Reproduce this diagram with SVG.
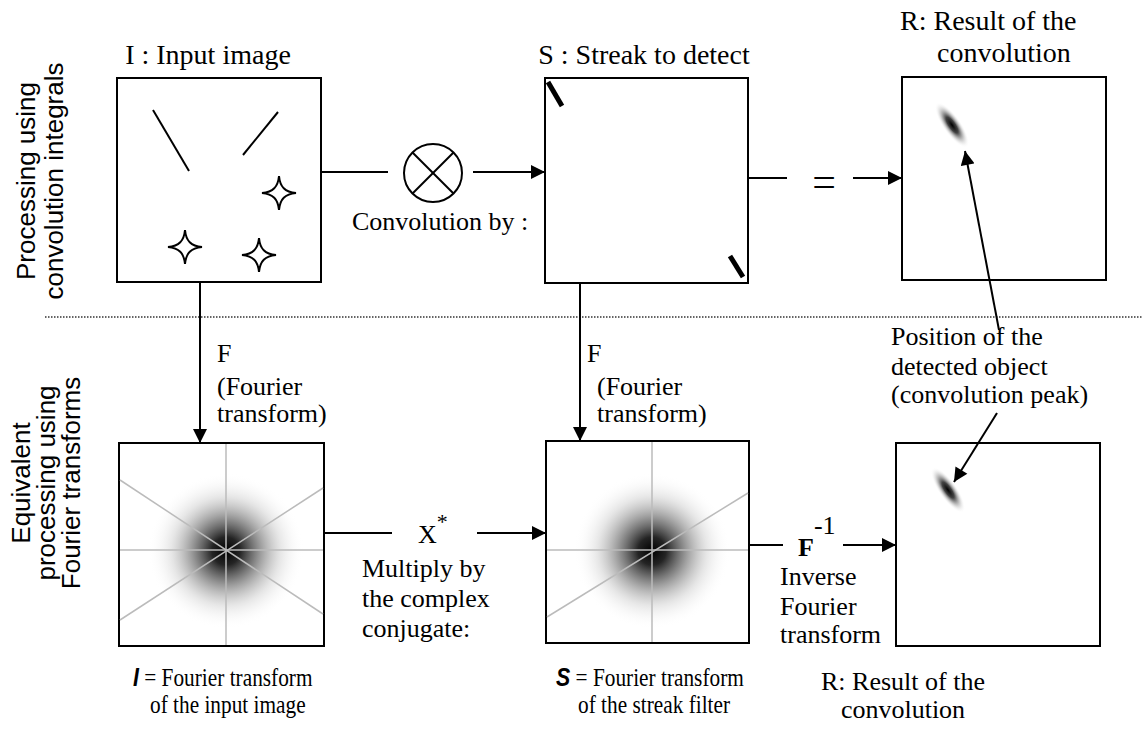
<svg xmlns="http://www.w3.org/2000/svg" xmlns:xlink="http://www.w3.org/1999/xlink" width="1143" height="729" viewBox="0 0 1143 729">
<style>
.box{fill:#fff;stroke:#000;stroke-width:2}
.ln{stroke:#000;stroke-width:2;fill:none}
.arr{stroke:#000;stroke-width:2;fill:none;marker-end:url(#ah)}
.t{font-family:"Liberation Serif","Times New Roman",serif;font-size:26px;fill:#000}
.tt{font-family:"Liberation Serif","Times New Roman",serif;font-size:28px;fill:#000}
.s{font-family:"Liberation Sans",Arial,sans-serif;font-size:26px;fill:#000}
.bi{font-family:"Liberation Sans",Arial,sans-serif;font-weight:bold;font-style:italic}
.grid{stroke:#bbb;stroke-width:1.5;fill:none}
.star{fill:#fff;stroke:#000;stroke-width:2}
.streak{stroke:#000;stroke-width:5;stroke-linecap:butt}
</style>
<defs>
<marker id="ah" viewBox="0 0 10 10" refX="10" refY="5" markerWidth="15" markerHeight="14" markerUnits="userSpaceOnUse" orient="auto"><path d="M0,0 L10,5 L0,10 z" fill="#000"/></marker>
<radialGradient id="gauss" cx="50%" cy="50%" r="50%">
<stop offset="0" stop-color="#000" stop-opacity="1"/>
<stop offset="0.18" stop-color="#111" stop-opacity="0.92"/>
<stop offset="0.4" stop-color="#444" stop-opacity="0.62"/>
<stop offset="0.7" stop-color="#999" stop-opacity="0.24"/>
<stop offset="1" stop-color="#fff" stop-opacity="0"/>
</radialGradient>
<radialGradient id="blob" cx="50%" cy="50%" r="50%">
<stop offset="0" stop-color="#000" stop-opacity="1"/>
<stop offset="0.35" stop-color="#222" stop-opacity="0.85"/>
<stop offset="0.7" stop-color="#888" stop-opacity="0.35"/>
<stop offset="1" stop-color="#fff" stop-opacity="0"/>
</radialGradient>
<path id="star" d="M0,-17 C1,-6 6,-1 17,0 C6,1 1,6 0,17 C-1,6 -6,1 -17,0 C-6,-1 -1,-6 0,-17 Z"/>
</defs>
<rect width="1143" height="729" fill="#fff"/>

<g id="row-labels">
<text class="s" text-anchor="middle" transform="translate(35,181) rotate(-90)">Processing using</text>
<text class="s" text-anchor="middle" transform="translate(63,181) rotate(-90)">convolution integrals</text>
<text class="s" text-anchor="middle" transform="translate(30,483) rotate(-90)">Equivalent</text>
<text class="s" text-anchor="middle" transform="translate(55,483) rotate(-90)">processing using</text>
<text class="s" text-anchor="middle" transform="translate(80,483) rotate(-90)">Fourier transforms</text>
<line x1="45" y1="317" x2="1143" y2="317" stroke="#333" stroke-width="1.3" stroke-dasharray="1.5,1.5"/>
</g>

<g id="input-image">
<text class="tt" x="208" y="64" text-anchor="middle">I : Input image</text>
<rect class="box" x="117" y="78" width="204" height="204"/>
<line class="ln" x1="153" y1="110" x2="189" y2="171"/>
<line class="ln" x1="278" y1="112" x2="243" y2="155"/>
<use xlink:href="#star" class="star" x="279" y="193"/>
<use xlink:href="#star" class="star" x="185" y="247"/>
<use xlink:href="#star" class="star" x="259" y="255"/>
</g>

<g id="streak-filter">
<text class="tt" x="644" y="64" text-anchor="middle">S : Streak to detect</text>
<rect class="box" x="545" y="78" width="203" height="205"/>
<line class="streak" x1="548" y1="82" x2="562" y2="106"/>
<line class="streak" x1="730" y1="256" x2="743" y2="277"/>
</g>

<g id="result-top">
<text class="tt" x="900" y="30">R: Result of the</text>
<text class="tt" x="937" y="62">convolution</text>
<rect class="box" x="902" y="77" width="204" height="203"/>
<ellipse cx="952" cy="125" rx="27" ry="9" fill="url(#blob)" transform="rotate(55 952 125)"/>
</g>

<g id="fourier-input">
<rect class="box" x="119" y="443" width="205" height="203"/>
<circle cx="226" cy="551" r="78" fill="url(#gauss)"/>
<line class="grid" x1="120" y1="550" x2="323" y2="550"/>
<line class="grid" x1="226" y1="444" x2="226" y2="645"/>
<line class="grid" x1="120" y1="480" x2="323" y2="614"/>
<line class="grid" x1="120" y1="620" x2="323" y2="488"/>
<text class="t" transform="translate(133,686) scale(0.82,1)"><tspan class="bi">I</tspan> = Fourier transform</text>
<text class="t" transform="translate(150,713) scale(0.82,1)">of the input image</text>
</g>

<g id="fourier-streak">
<rect class="box" x="546" y="441" width="203" height="202"/>
<circle cx="652" cy="551" r="78" fill="url(#gauss)"/>
<line class="grid" x1="547" y1="550" x2="748" y2="550"/>
<line class="grid" x1="652" y1="442" x2="652" y2="642"/>
<line class="grid" x1="547" y1="617" x2="748" y2="493"/>
<text class="t" transform="translate(556,686) scale(0.82,1)"><tspan class="bi">S</tspan> = Fourier transform</text>
<text class="t" transform="translate(578,713) scale(0.82,1)">of the streak filter</text>
</g>

<g id="result-bottom">
<rect class="box" x="896" y="443" width="204" height="203"/>
<ellipse cx="948" cy="490" rx="27" ry="9" fill="url(#blob)" transform="rotate(55 948 490)"/>
<text class="t" text-anchor="middle" x="903" y="690">R: Result of the</text>
<text class="t" text-anchor="middle" x="903" y="718">convolution</text>
</g>

<g id="conv-operator">
<circle cx="433" cy="173" r="29" fill="none" stroke="#000" stroke-width="2"/>
<line class="ln" x1="412.5" y1="152.5" x2="453.5" y2="193.5"/>
<line class="ln" x1="453.5" y1="152.5" x2="412.5" y2="193.5"/>
<text class="t" x="352" y="230">Convolution by :</text>
</g>

<g id="position-note">
<text class="t" x="891" y="345">Position of the</text>
<text class="t" x="891" y="375">detected object</text>
<text class="t" x="891" y="403">(convolution peak)</text>
</g>

<g id="connectors">
<line class="ln" x1="322" y1="172" x2="388" y2="172"/>
<line class="arr" x1="473" y1="172" x2="545" y2="172"/>
<line class="ln" x1="747" y1="178" x2="787" y2="178"/>
<text class="t" x="824" y="196" text-anchor="middle" style="font-size:42px">=</text>
<line class="arr" x1="853" y1="178" x2="902" y2="178"/>

<line class="arr" x1="200" y1="283" x2="200" y2="443"/>
<text class="t" x="217" y="362">F</text>
<text class="t" x="217" y="395">(Fourier</text>
<text class="t" x="217" y="422">transform)</text>

<line class="arr" x1="580" y1="284" x2="580" y2="441"/>
<text class="t" x="587" y="362">F</text>
<text class="t" x="597" y="395">(Fourier</text>
<text class="t" x="597" y="422">transform)</text>

<line class="ln" x1="325" y1="533" x2="392" y2="533"/>
<text class="t" x="418" y="543">X<tspan dy="-14" font-size="22">*</tspan></text>
<line class="arr" x1="477" y1="533" x2="546" y2="533"/>
<text class="t" x="362" y="577">Multiply by</text>
<text class="t" x="362" y="607">the complex</text>
<text class="t" x="362" y="637">conjugate:</text>

<line class="ln" x1="750" y1="545" x2="783" y2="545"/>
<text class="t" x="798" y="556" font-weight="bold">F<tspan dy="-22" font-weight="normal">-1</tspan></text>
<line class="arr" x1="843" y1="545" x2="896" y2="545"/>
<text class="t" x="780" y="585">Inverse</text>
<text class="t" x="780" y="615">Fourier</text>
<text class="t" x="780" y="643">transform</text>

<line class="arr" x1="999" y1="330" x2="965" y2="151"/>
<line class="arr" x1="997" y1="413" x2="954" y2="482"/>
</g>
</svg>
